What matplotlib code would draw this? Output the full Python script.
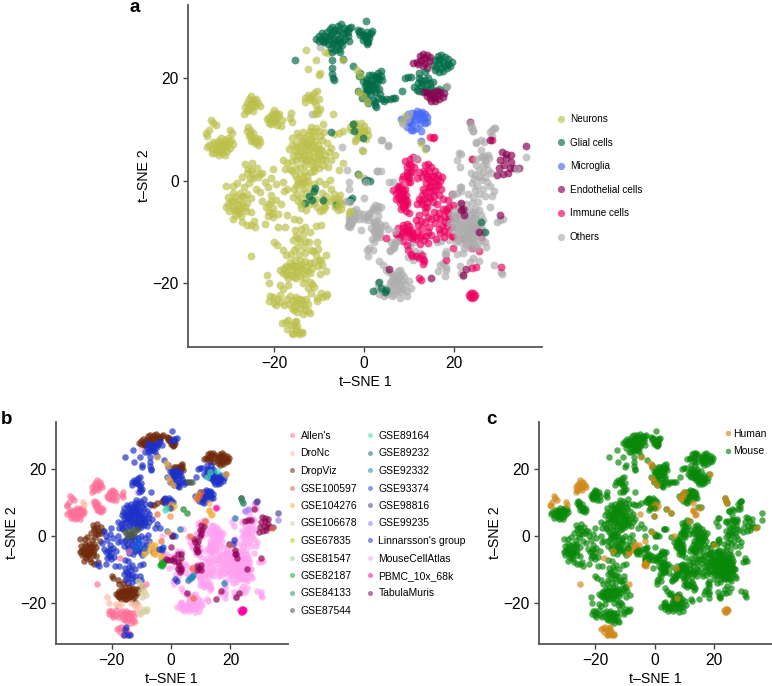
import matplotlib
matplotlib.use("Agg")
import matplotlib.pyplot as plt
from matplotlib.lines import Line2D

plt.rcParams['font.family'] = ['Liberation Sans', 'DejaVu Sans']

W, H = 772, 686

cell_types = ["Neurons", "Glial cells", "Microglia", "Endothelial cells", "Immune cells", "Others"]
cell_colors = ["#bcc04a", "#006b48", "#4668f8", "#880050", "#ee0060", "#adadad"]
datasets_col1 = ["Allen's", "DroNc", "DropViz", "GSE100597", "GSE104276", "GSE106678", "GSE67835",
                 "GSE81547", "GSE82187", "GSE84133", "GSE87544"]
datasets_col2 = ["GSE89164", "GSE89232", "GSE92332", "GSE93374", "GSE98816", "GSE99235",
                 "Linnarsson's group", "MouseCellAtlas", "PBMC_10x_68k", "TabulaMuris"]
dataset_colors = {"Allen's": "#ff7098", "DroNc": "#ffb8a0", "DropViz": "#702808", "GSE100597": "#e86830",
                  "GSE104276": "#f0b040", "GSE106678": "#d8cca0", "GSE67835": "#c0cc20", "GSE81547": "#a0d880",
                  "GSE82187": "#10a828", "GSE84133": "#209858", "GSE87544": "#485848", "GSE89164": "#40e0b0",
                  "GSE89232": "#207070", "GSE92332": "#1088b0", "GSE93374": "#1858d8", "GSE98816": "#504090",
                  "GSE99235": "#9880f8", "Linnarsson's group": "#1c30c8", "MouseCellAtlas": "#ffa0f0",
                  "PBMC_10x_68k": "#ff00a0", "TabulaMuris": "#900050"}
species_names = ["Human", "Mouse"]
species_colors = {"Human": "#d08818", "Mouse": "#088808"}

x_ticks = [-20, 0, 20]
y_ticks = [-20, 0, 20]

# ---- point groups (t-SNE 1, t-SNE 2) ----
others_right = [(23.9,10.3),(24.3,9.7),(29.1,10.4),(28.1,9.5),(28.5,8.8),(25,7.4),(26.6,7.6),(26.1,6.1),(27.5,5.1),
    (21.2,5.4),(24.1,4.3),(26.9,4),(27.8,4.4),(20.7,4),(21.3,2.8),(23.9,1.5),(27.5,2.1),(25.7,0.8),(24.5,0.3),(26,0.1),
    (27,0.8),(28.2,1.6),(24,-0.5),(25.2,-1),(26.5,-1.5),(28,-1),(29,-2),(28.5,-3),(21.7,-1.1),(21.7,-2),(21,-5),(18.4,-5.2),
    (25.4,-4.2),(28,-5.1),(29.5,-8),(30.2,-7.7),(31,-7.5),(27.2,-12.8),(27,-12),(24.3,-15),(23.5,-15.8),(25.5,-15.7),
    (29,-16.4),(30.4,-17.8),(30.6,-18.2),(21.3,-16.7),(21.6,-18),(22,-18.6),(17.6,-16),(18.3,-16.8),(16.5,-17.5),
    (18.1,-18.6),(18.3,-17.3),(18.2,-14.4),(18.3,-13.6),(20.8,-14.2),(22,-14),(19,-11.5),(16.2,-12),(17.2,-11.8),
    (24.8,1.2),(25.5,2.2),(26.4,3),(26.4,1.8),(27.3,-0.2),(24.6,-1.8),(25.6,-2.6),(27,-3),(24.2,-3.2),(23.2,-2.6),(26.4,4.6),(27.2,3.2),(25,3)]
others_dense = [(19.8,-9.5),(20.4,-8.4),(20.6,-10.6),(21,-7.6),(21.2,-9.2),(21.4,-11),(21.6,-12),(22,-8),(22,-10),
    (22.3,-9),(22.5,-6.5),(22.6,-11),(22.8,-12.5),(23,-8.2),(23,-9.8),(23.2,-7.2),(23.3,-11.5),(23.5,-13),(23.8,-9),
    (24,-10.5),(24,-7.6),(24.3,-6),(24.3,-12),(24.6,-8.6),(24.7,-11),(25,-9.8),(25,-7.5),(25.3,-12.4),(25.5,-5.7),
    (25.7,-10.6),(26,-8.8),(26,-6.6),(19.5,-6.6),(20.2,-5.8),(21.4,-4.6),(22.8,-4.6),(24,-4.4),(26.4,-7.6),(26.3,-11.6),
    (20.5,-12),(21.9,-7),(22.9,-10.7),(24.5,-9.7),(23.6,-12),(22.2,-13.1),(25.2,-13),(19.2,-8.3),(26.5,-10),
    (20,-7.4),(20.8,-6.6),(21.6,-5.8),(22.4,-5.6),(23.4,-5.6),(24.8,-6.6),(23.6,-6.6),(22.7,-7.5),(21.3,-8.4),(22.2,-8.8),
    (23.2,-8.9),(24,-8.4),(25.2,-8.6),(25.4,-10.8),(24.2,-11.2),(23.2,-10.4),(22.2,-11.6),(21,-10),(20.2,-9),(20.9,-11.6),
    (23,-12),(24.6,-12.6),(23.7,-10),(22.6,-9.6),(24.8,-5.4),(26.2,-9.6),(20.4,-7.3),(21.8,-9.6),(23.4,-7.7),(24.6,-7.2)]
others_mid = [(-3.2,-0.2),(0.1,0.6),(-3.4,-7),(-3.2,-7.7),(-3.4,-8.6),(-1.8,-5.4),(-1,-6.2),(-0.3,-6.5),(0.5,-7),(-2.8,-7),(-1.9,-6.4),(-2.4,-5.8),(-3,-8.3),
    (1.3,-7.1),(2,-5.2),(3.2,-4.9),(3.8,-5),(-2.3,-7.4),(-0.7,-9.6),(1.5,-9.2),(2.2,-9.8),(3.2,-9.4),(3.8,-8.9),(4.6,-8.6),(1.7,-5.8),(2.4,-4.7),(1.1,-6.2),
    (5.3,-9.4),(1.8,-11.4),(2.8,-10.8),(3.5,-11),(2.2,-12),(0.6,-13.5),(0.9,-14.6),(6,-12),(6.7,-13),(5.8,-13.6),(2.8,-8.9),(3.5,-8.4),(3,-7.8),(2.3,-8.3),(3.6,-10),(2.9,-9.8),
    (3.9,2),(3.9,7.9),(5.3,6.9),(-0.4,6),(3,2),(5.6,-0.3),(-11.6,13),(-9.8,26.2),(6.7,-12.4),(7.2,-11.8)]
others_low = [(3.4,-15.6),(4.2,-16.4),(4.9,-17.4),(5.6,-17.8),(7.4,-19.8),(7,-20.2),(6,-19.5),(6.5,-21),(7.4,-21.5),(5.6,-21.4),
    (5,-20.9),(7.8,-18.9),(8.5,-18.2),(8,-17.4),(9.2,-20.2),(10,-19.5),(6.2,-22.5),(8,-22.8),(9.5,-22.5),(3,-21),(3.4,-22),(4,-21.4),(3.2,-20),
    (4.5,-22.4),(11.4,-13.6),(10.2,-12.6),(11,-15.4),(11.8,-14.7),(12.4,-14),(11,-12),(9.7,-14.8),(6.5,-18.8),(7,-18.4),(7.7,-20.8),(8.4,-19.6),(8.7,-21),(5.8,-20),
    (6.2,-20.4),(7,-19.2),(8.2,-21.6),(6.8,-22),(9,-18.8),(7.5,-17.6),(6.3,-18.2),(9.6,-21.4),(5.2,-22),(10.4,-20.8),(8,-20.2)]
immune_main = [(11.8,0.5),(12.3,1.7),(13,0.8),(13.7,1.5),(14.3,0.3),(15,1),(15.6,-0.3),(14.8,-1),(13.8,-0.5),(13.2,-1.5),
    (14.5,-2),(15.8,-1.7),(16.5,-0.8),(17,0),(17.2,-1.5),(16.6,-2.7),(15.5,-3),(14.2,-3.2),(13,-2.7),(12.3,-3.6),(11.7,-4.6),
    (13,-4.5),(14,-5),(15.3,-4.2),(16.2,-4.6),(17.5,-3.5),(18.7,-3.8),(19.6,-2.5),(13.6,-6),(12.2,-6.6),(11.5,-7.6),(12.7,-7.8),
    (14.2,-7),(15.5,-6),(16.6,-6.2),(17.6,-5.5),(18.8,-6.2),(17,-7.5),(18,-8),(19.2,-7.4),(15.8,-8.3),(14.4,-9),(13,-9.2),(11.8,-10),
    (10.5,-9.5),(9.5,-8.5),(8.7,-8.7),(7.6,-9.2),(7.1,-10.3),(8.6,-10),(10,-11),(11.2,-10.8),(12.8,-10.5),(13.8,-10.8),(15,-10.6),
    (16.6,-9.4),(17.8,-9.8),(18.7,-10.2),(16,-11.3),(17.9,-11),(12.4,-12.3),(14.2,-12.2),(8.6,-11.7),(9.6,-12.5),(8,-10.9),
    (13.5,3),(14.3,3.3),(15,2.7),(15.8,2),(16.5,1.2),(17.4,0.8),(13.4,2),(14.4,2),(15.5,1),(14,0.8),(15,0),(16.3,0.3),(14.4,-1.2),(15.4,-2),(13.6,-2.2),(16,-1),
    (12.8,-4),(13.4,-3.6),(14,-4.2),(14.8,-3.4),(13.5,-5),(18.2,-5.6),(19,-5),(19.8,-4.8),(18.8,-7.5),(19.7,-9),(20.5,-7),(17.8,-6.8),(17.4,-8.8),(18.5,-8.8),(19.6,-10.8),(17,-10.2),
    (10.6,-10.2),(11.6,-11.4),(12.4,-11),(13.3,-11.6),(14.3,-10),(9.9,-9.5),(10.6,-11.2),(12,-8.7),(13.7,-8),(15,-7.4),(16,-7)]
immune_left = [(6.5,-1.8),(7.6,-1.2),(8.3,-1),(7.2,-2.4),(8,-2.8),(8.8,-2.4),(7.2,-3.5),(8.2,-3.8),(9.2,-3.6),(8,-4.4),(9,-5),(9.6,-4.6),
    (8.3,-5.5),(9.3,-5.8),(10,-6.3),(8.4,0.3),(9.5,1.2),(10.3,1.7),(9.8,0.7),(10.2,-0.3),(8.8,0.9),(9.5,2.8),(10.4,3),(9.2,3.9),
    (11,4.6),(10.2,4.2),(11.8,4.3),(7.9,-1.8),(8.8,-3.2),(8.6,-1.8),(9.4,-2.8),(9.6,-4),(7.6,-3.2)]
immune_misc = [(10.4,-14.2),(11.6,-14.7),(13,-14.4),(13.2,-15.3),(13.4,-15.7),(13.2,-16.2),(7.6,-10.5),(12.6,-19.4),(12.2,-19),(18.3,-15.5),
    (25.5,-13.6),(26,-10.9),(24,-13),(22,-11.2),(20,-11),(19.8,-13),(30.4,-16.8),(24,-17),(25,-16.8),(14.7,8.5),(15.5,8.5),(28.5,8),(24,4.2),(24,-9.2),(25,-9.2),(10.6,-14.7),(9.8,-13.4),(12.3,-15),(4.9,-11.2)]
immune_pbmc = [(23.4,-22.3),(23.8,-21.8),(24.2,-21.9),(24.6,-22.2),(24,-22.8),(23.6,-22.7),(24.4,-22.6)]
neuro_allen_left = [(-34.5,7),(-33.8,6.2),(-33,5.5),(-32.2,5),(-31.5,5.4),(-30.5,5.8),(-29.7,6.4),(-29.2,7.1),(-30,7.6),(-30.8,8),(-31.7,8.3),
    (-32.5,7.8),(-33.2,7.2),(-32,6.8),(-31.2,6.6),(-30.4,6.9),(-32.6,6.3),(-33.6,7.6),(-31,7.3),(-31.9,7.5),(-30.3,8.4),(-34.9,6.6),(-31.6,6.1),
    (-33,6.5),(-31.5,7),(-32.3,5.8),(-30.8,5),(-33.8,5.4),(-29.5,8)]
neuro_human_tl = [(-35.1,9.3),(-34.5,10),(-33.9,11.9),(-33.5,11.2),(-32.8,10.8),(-34.9,8.8)]
neuro_pale_tl = [(-29.8,10),(-29.4,9.3)]
neuro_human_2515 = [(-26.5,14.5),(-26,15.2),(-25.5,15.9),(-25,16.6),(-24.5,15.8),(-24,16),(-23.5,15.2),(-23.2,14.6),(-24.2,14.6),(-25,14.2),
    (-25.8,13.8),(-25.2,15),(-24.6,13.7),(-26,13.6),(-26.6,13),(-24.8,15.3),(-25.4,14.7),(-24.5,15)]
neuro_allen_2012 = [(-20,13.8),(-19.6,13.3),(-20.5,13),(-21,12.5),(-21.5,12),(-20.3,12.2),(-19.6,12),(-20,11.4),(-21.2,11.2),(-20.7,11),
    (-18.9,13),(-19.2,12.6),(-18.3,11.9),(-19.4,10.8),(-16.1,13.2),(-16.5,12.2),(-16,11.5),(-18.5,10.7),(-20.8,11.8),(-20.2,12.8),(-19.8,11.7)]
neuro_allen_258 = [(-25.8,10.5),(-26,9.7),(-25.4,9.3),(-25,8.8),(-24.6,8),(-24.2,7.4),(-23.5,7),(-23,7.6),(-23.3,8.2),(-24,8.3),(-25,7.8),(-25.6,8.8),(-24.6,9.4),(-25.4,10),(-24,7.8)]
neuro_sparse_top = [(-12.8,25.6),(-10.6,23.6),(-12.5,21.9),(-9.7,21),(-9.9,20.6),(-8.6,25.1),(-7.9,25)]
neuro_1015 = [(-13,16.2),(-12.5,16.8),(-11.5,16.6),(-11,17.2),(-10.5,17.6),(-11.8,15.8),(-13.2,15.3),(-10.6,14.8),(-10,15.9),(-10.4,13.9),
    (-9.8,14),(-10.8,13),(-10.2,13.3),(-6.8,13),(-12,16.2),(-11,15.6)]
neuro_center = [(-14.5,8.6),(-13.8,8),(-13,8.4),(-12.4,7.6),(-11.7,8.2),(-11,8.8),(-10.8,7.8),(-10.2,7),(-11.2,6.8),(-12,6.4),(-13,6.6),(-14,6.8),
    (-15.2,7.2),(-16,7),(-16.6,6.2),(-15.4,5.8),(-14.5,5.6),(-13.4,5.3),(-12.2,5),(-11,5.6),(-10,5.4),(-9.2,6),(-8.6,5),(-9.4,4.2),(-10.4,4),
    (-11.6,3.8),(-12.8,3.8),(-14,4.3),(-15,4),(-16,3.8),(-17,3.4),(-16.4,2.4),(-15.2,2.6),(-14.2,2.8),(-11,2.6),(-10,2.6),(-9,3.1),(-8,2.8),(-7.4,4),
    (-12,9.8),(-10.6,10.3),(-9,11),(-8.8,9.6),(-14.8,9.3),(-6.5,5.1),(-7.3,6.4),(-8.2,7.4),(-13.5,9.6),(-9.8,8.7),(-11.7,10.6),(-4.6,3.4),(-5.5,2.2),
    (-13.5,7.3),(-12.7,7),(-11.8,7.3),(-10.7,6.2),(-9.7,6.3),(-12.5,5.9),(-13.8,5.9),(-14.8,6.6),(-15.7,5),(-14.6,4.9),(-13.4,4.5),(-12.2,4.2),(-11,4.6),(-9.9,4.8),
    (-8.7,4),(-10.4,3.3),(-11.6,3),(-13,3),(-17.6,2.4),(-16,2),(-11.3,9.5),(-12.4,9),(-10,9.7),(-9.2,8),(-7.8,5.7),(-18,4),(-15.9,8.3)]
neuro_grey87544 = [(-15.4,1.2),(-14.8,0.4),(-14.2,1.4),(-13.6,0.6),(-13,1.8),(-12.6,0.9),(-14.6,-0.5),(-13.6,-0.6),(-12.4,-0.1),(-11.8,1.7),(-11,2),(-15,-1),(-14,0),(-13,-0.2)]
neuro_center_low = [(-15.6,-1.6),(-14.8,-2.6),(-14,-3.4),(-13,-2.4),(-12.2,-3.2),(-11.2,-2.2),(-10.6,-3.6),(-12,-4.6),(-13.4,-4.4),(-14.6,-4),(-9.4,-2.4),
    (-9,-4),(-8.7,-5),(-10.4,-5),(-15.8,-3.2),(-12.8,-5.6),(-8.6,-0.6),(-7.6,0.2),(-10,0),(-11,-0.6),(-17,-1.6),(-18,-0.2),(-13.5,-1.6),(-12,-1.4),(-11,-4.4),(-9.7,-5.8),(-14,-5.2),(-8.4,-2.9),(-7.4,-1.6)]
neuro_brown_left = [(-30.6,-1),(-29,-2.4),(-28.2,-0.4),(-27.6,-2.4),(-26.6,-1.2),(-26,-2.6),(-27,0.8),(-27.7,-3.8),(-29,-4),(-30.2,-4.6),(-29.2,-5.4),(-28,-5.6),
    (-27,-4.6),(-26,-4.4),(-25.2,-3.4),(-30.6,-5),(-28.6,-6.6),(-27.4,-6.9),(-26.2,-5.8),(-25.2,-6),(-27,-8),(-26,-8.6),(-29.2,-7.5),(-25.6,-0.4),(-24.6,0.5),
    (-26,1.6),(-25,2.2),(-26.4,3.2),(-24.8,3.4),(-23.7,2.6),(-23.5,0.8),(-23,1.4),(-29,-1),(-24.5,-7.8),(-24,-1.5),(-30.3,-3.2),
    (-28.6,-3.2),(-28,-4.6),(-29.6,-4),(-28.8,-4.9),(-27.4,-5.2),(-26.6,-3.2),(-26.4,-5),(-27.2,-3),(-25.8,2.4),(-24.6,1.4),(-25.4,0.6),(-27.8,-6.2),(-28.5,-5.6),(-30,-5.8)]
neuro_blue_l2 = [(-25,-8.6),(-24.2,-9),(-22,-8.4),(-19,-9),(-22.6,-4),(-21.8,-5),(-21,-6),(-20.2,-5.2),(-19.2,-6.4),(-19.6,-3.8),(-18.4,-4.6),(-20.7,-2.8),(-21.4,-1.2),
    (-22,-0.2),(-20.7,0.6),(-19.6,-0.7),(-20.7,-4),(-21.4,-6.8),(-20.2,-7),(-17.8,-2),(-22.6,1.5),(-20.2,2.3),(-23.2,-2.2),(-21.2,-4.6),(-20.5,-6.2)]
neuro_blue_lower = [(-15.4,-9.6),(-14,-9.4),(-13,-8.9),(-12,-10),(-15,-10.8),(-15.8,-11.5),(-14.2,-11.8),(-14.8,-12.8),(-13.4,-12.8),(-12.2,-12),(-15.6,-13.4),(-14.4,-14.2),
    (-13,-14),(-11.8,-13.4),(-10.4,-12),(-10.2,-13.2),(-17.6,-9),(-15.6,-7.4),(-14.4,-7.6),(-9.6,-8.6),(-10.6,-8.8),(-13.6,-10.4),(-14.6,-11.2),(-13,-11.8)]
neuro_brown_lower = [(-18.6,-17.4),(-17.4,-16.6),(-16.4,-15.8),(-15.4,-15.4),(-14.2,-15.4),(-13,-15.6),(-12,-16),(-11,-15.8),(-10,-15.4),(-18,-18),(-17,-17.9),(-16,-17.4),(-15,-16.6),
    (-14,-17),(-13,-17.4),(-12,-18),(-15.6,-18.8),(-14.2,-18.6),(-13,-19),(-11.5,-17),(-16.8,-19),(-20,-12),(-19.4,-12.6),(-18,-13.4),(-17.4,-14.5),(-12,-19.7),(-16.2,-14.2),
    (-17.8,-17),(-16.8,-16.8),(-15.8,-16.4),(-14.8,-17.8),(-13.7,-16.2),(-12.7,-16.6),(-16.2,-18.4),(-15,-19),(-13.6,-18),(-12.5,-17.5),(-16,-16.6),(-15.2,-17.6),(-14.4,-16.6),(-17.4,-18.4)]
neuro_beige = [(-10.6,-14.4),(-9.6,-15.5),(-9.2,-16.5),(-8.4,-17.6),(-9.8,-18.2),(-8.5,-22.4),(-9.2,-22.6),(-10.4,-22.8),(-9.5,-21.9),(-11.2,-13.7),(-11.5,-20.2),(-10.5,-23.5),(-8.2,-22),(-10.2,-16.6)]
neuro_peach = [(-21.5,-18.4),(-21,-20),(-18.6,-20.4),(-18,-21),(-13.6,-20),(-12.4,-20.8),(-11,-20.7),(-16.8,-20.3),(-12,-25.8),(-11.8,-21.8)]
neuro_allen_low = [(-21,-23.4),(-20.2,-22.6),(-19.4,-23),(-18.6,-22.2),(-20,-23.8),(-18.5,-23.6),(-16.4,-22.4),(-15.8,-23.4),(-15,-22.6),(-14.2,-23),(-13.4,-24.2),(-12.4,-24),(-15.4,-24.4),
    (-14.2,-24.8),(-13.2,-25.2),(-16.6,-24),(-17.2,-23),(-14.8,-25.6),(-15.6,-25.2),(-13.6,-26),(-12.4,-25.4),(-14.6,-23.8),(-15.2,-23.2),(-13.8,-23.2),(-16,-24.8),(-14,-24),(-12.8,-23),(-19.6,-24.2),(-20.8,-22.5),(-17.8,-24.2)]
neuro_human_low = [(-18.2,-27.8),(-17.4,-27.6),(-16.8,-27.2),(-16.2,-28.2),(-17.2,-28.8),(-16,-29.6),(-15,-29.3),(-14.4,-29.5),(-13.8,-29.4),(-15.4,-27.6),(-14.8,-28.4),(-15.2,-28.8)]
neuro_purple_low = [(-15.8,-29.8),(-15,-27.4),(-14.4,-29.8),(-15.6,-28.2),(-13.8,-29.6)]
neuro_gse_mid = [(-6.6,-2.6),(-6.9,-3.5),(-7.2,-4),(-6.3,-3.9),(-6,-4.4),(-5.8,-3.3),(-5.4,-4.2),(-5.3,-2.8)]
neuro_orange_m = [(-8.8,-4.9),(-9,-5.6),(-8.6,-4.2)]
neuro_midright = [(-3,10.5),(-2.4,11),(-1.7,10.1),(-0.9,9.8),(0,9.8),(-4.6,9.8),(-5.6,9.3),(-6.6,9.2),(-2.8,10)]
neuro_blue_mid = [(-1.9,11.2),(-1,10.6),(0,10.7),(0.8,10),(-1.4,9.5),(-0.6,11.3)]
neuro_yellow_m = [(0,9.5),(-0.9,8.6),(0.5,8.2),(1,9),(-1.3,9),(-0.2,5.8)]
glia_top_brown = [(-10.7,27.6),(-10,28.2),(-9.4,28.8),(-8.8,28.2),(-8.2,29),(-7.6,29.7),(-7,30),(-6.4,29.4),(-5.8,30.2),(-5,30.5),(-4.4,29.8),(-3.8,29.5),(-3.2,29.9),(-2.8,30),
    (-4.8,28.9),(-6,28.6),(-7.2,28.4),(-8.4,27.4),(-9.3,27.6),(-6.6,27.6),(-5.2,27.9),(-7.8,28.2),(-6.8,29),(-5.5,29.4),(-8.8,27),(-10,27.3),(-9.1,27.2),(-4.2,28.9),(-3.6,29)]
glia_top_blue = [(-8,26.6),(-7.3,26),(-6.6,26.9),(-6,26.3),(-5.4,26.8),(-4.8,27.2),(-4.2,27.6),(-3.6,28.2),(-7,25.2),(-5.6,25.7),(-5.3,25.1),(-3.2,27.2),(-6.4,27.2),(-7.7,27.6),(-7,26.7),(-5.8,27.4),(-4.8,26.5),(-6.5,25.6)]
glia_b_brown = [(-1.2,29.5),(-0.6,29.2),(-0.9,28.5),(0.2,27.8),(0.6,27.1),(1,27),(-0.1,27.4),(1.2,27.8),(-0.3,28.4),(0.6,28),(-1,29.1),(0.8,26.7)]
glia_b_blue = [(0.4,31.2),(0.8,29),(1.5,28.9),(1.9,29.3),(0.3,28.3),(1.1,28.4)]
glia_sparse = [(-15.4,23.5),(-4.7,23.8),(-2.5,22.5),(-7,23.6),(-7,22),(-7,20.8),(-6.8,20),(-6.7,19.7),(-0.9,21),(-1,20.4),(-7.2,9.5),(-2.4,11),(-2.1,9.8),(-0.2,8.4)]
glia_c_brown = [(1.8,20.6),(2.5,20.4),(3.2,21),(3.8,21.5),(3.8,20.4),(3.4,19.8),(0.5,19.9),(4,19.6),(2.6,20),(3,20.2),(1.1,20.6)]
glia_c_blue = [(1,19.4),(1.5,18.8),(1.9,19.5),(1,18.3),(0.2,18.6),(-0.2,19.4),(0.6,18),(1.4,17.8),(2.4,17.4),(2.8,18),(3,19),(3.6,17),(3.1,16.2),(4,16),(4.4,15.6),(-1.3,17.5),(-0.4,16.2),
    (0.6,16),(0.9,15.2),(-0.1,16.5),(1.5,16.9),(2.1,15.8),(2.5,15.3),(2.5,14.8),(2.7,14.5),(5,16),(0.4,18.9),(1.2,19),(1.8,18.1),(0.8,17.4),(2,18.6),(2.4,19),(3.3,17.9),(0.2,17.3)]
glia_c_grey = [(5.8,16),(6.5,16.2),(7,16.1)]
glia_rt_brown = [(15.4,22.6),(15.8,23.6),(16.4,24.4),(17.2,24.6),(18,24.2),(18.8,23.8),(19.5,23.2),(19.2,22.4),(18.4,22),(17.6,21.4),(16.6,21.2),(15.8,21.6),(16.6,22.8),(17.6,23.2),(18,22.6),
    (16.4,23.6),(17.2,22),(18.8,22.8),(17,23.8),(16,22.2)]
endo_rt_brown = [(11,23),(11.8,23.2),(12.4,24.4),(13.2,24.8),(14,24.6),(14.7,24.2),(14.4,23.4),(13.6,23),(12.8,23.6),(13.2,22.4),(14,22),(12,22.8),(13.4,24)]
glia_rt_blue = [(8.4,17.6),(9.2,20),(9.8,20.2),(10.4,20.3),(12.2,21),(12.2,20),(12,19),(11.2,18.3),(12.8,18.6),(13.6,19.6),(14.2,20),(14.6,19),(13.6,18),(14.6,18),(15.6,16.4),(16.6,18),(13.5,21.2),(13.3,17.6),(12.6,19.6),(14,18.8),(15.2,17.9),(11.8,17.8)]
endo_rt_blue = [(13.2,17.4),(14,16.6),(14.6,16.2),(15.5,17.4),(16.4,16.8),(17,17.4),(17.5,16.4),(16.6,15.9),(15.8,15.6),(14.9,15.6),(13.8,17.4),(17.8,17.2),(15,16.8),(15.9,16.2),(14.5,17.2),(16.2,17.5)]
glia_rt_cyan = [(13,19),(12.2,17.6),(15.4,19.2),(18.3,18.4)]
micro = [(8.2,12),(9.2,11.9),(9.6,12.4),(9.9,13),(10.4,12.4),(10.8,13.2),(11.5,13),(11.8,13.6),(12.4,13.3),(13,13.4),(13.6,13),(14,12.4),(13.4,12),(12.6,12.2),(11.4,11.8),(10.3,11.2),(9.5,10.5),(10.4,10),(11,9.9),
    (11.6,10.4),(12.4,11),(13.6,11.2),(14.1,11.4),(12.8,12.8),(11.2,12.6),(10,11.4),(10.8,11.2),(12.2,12)]
micro_single = [(12.7,7.7),(13.8,6.5),(12.7,9.7)]
glia_low_mid = [(-1.3,1.3),(0.6,0.2),(0.2,0),(1.3,-0.1),(-3.1,-3.7),(-3.4,-4),(-2.7,-3.4),(-6.1,-4.8),(-10.9,-1.4),(-11.1,-2),(-11.6,-3.7),(-13,-4.3),(-12.2,-3),(-9,-3.8)]
glia_low_2 = [(3.4,-19.8),(4.7,-21.6),(4.9,-21.2),(26.1,-8.1),(26.9,-9.9),(2,-21.4),(3.9,-20.8)]
mix_sc = [(-5.5,-4.4),(-4.8,-4.6),(-5,-5.4),(-5.8,-5.6),(-6.4,-5),(-3.3,-6.3),(-3,-5.8),(-3.4,-8.5)]
green_ms = [(-3.3,-8.5),(-3,-8),(-3.1,-9),(-2.8,-8.4),(-3.6,-8.8),(-2.5,-7.9)]
teal_pts = [(6.4,-12.8),(5.8,-13.4),(7,-12.4),(7.4,-11.8),(18,-14.3),(21.5,5.3),(3,2)]
blue_pts = [(2,-13.5),(1.2,-13),(20.8,-2.4),(21.3,-1.2),(19.5,-2.6),(-3.7,2.2),(-3,-4.2),(-4,-3.9)]
tabula_left = [(7.6,-1),(8.2,-2),(8.6,-3.1),(9.2,-1.6),(9.8,-0.2),(8.4,-4),(9.2,-4.6),(10.1,0.6),(10.6,1.8),(11.2,2.8),(10,3.2),(9.6,1.8),(8.8,-5),(8.8,-9.2),(9.3,-9.8),(8.8,-10.4),(10,-8.8),(10,-10.2)]
tabula_grey = [(-1.8,-7),(-1,-7.4),(0,-7.4),(1,-6.6),(2.4,-5.5),(3.2,-5.6),(3.2,-6.8),(0.9,-7.6),(2.2,-8),(2.8,-8.8),(3.4,-9.6),(2.2,-9.9),(3,-11),(3.4,-10.4),(26,4.6),(27,4.8),(25,4.3),(0.5,-0.2),(0,-3.3),(17,-16.4)]
tabula_endo = [(28,8),(22,-18.3),(31.6,4.4),(32.6,3.6),(33.4,2.6),(21.7,-4.4),(22,-5.4),(21.5,-5.6),(22.2,-6.6),(31.5,5.3),(30.2,-6.6),(30.3,4),(31.2,3),(32,1.6),(32.6,5),(31,1.4),(32.4,2.6),(30.8,5.6),(30,2.6),(29.6,1.2),(5.5,-17.1),(15,-19),(22.8,-17.1),(25.5,-10),(23.5,11.4)]
green_right = [(23.7,11.3),(24,10.5),(24.2,9.8)]
lav_pts = [(25,7.5),(36,4.6),(26,7.9)]
purple_pts = [(28.5,10),(29,10.4)]
purple_endo = [(36,6.8),(34.5,2.6)]
yellow_pts = [(-4.7,23.6),(-1.6,21.7),(-1,17.4),(-0.2,16.5),(0.6,15.3),(12.8,7.4),(13.5,6.3),(9.2,12.6),(8.5,11.4),(-1,1.1),(-0.9,20.7)]
peach_misc = [(10,13),(8.8,11),(9.5,12),(-4.8,6.6),(11.5,4.5)]
orange_misc = [(-3.3,-1.5),(7.5,-18.5),(19.8,-2.7),(6.5,-0.2),(7,-9.8),(34,2.4),(18.5,18.5)]
grey_orange = [(4,7.9),(5.3,6.8)]
immune_orange = [(15.3,8.3)]
pink_single = [(-25,-14.6),(-17.2,-6.6),(-8.5,-14.4),(-14,-4.6)]
teal_light = [(-2,7.8),(-1.7,8.2)]

# group: points, cell type, dataset, species
GROUPS = [
    (others_right, "Others", "MouseCellAtlas", "Mouse"),
    (others_mid, "Others", "MouseCellAtlas", "Mouse"),
    (others_low, "Others", "MouseCellAtlas", "Mouse"),
    (immune_main, "Immune cells", "MouseCellAtlas", "Mouse"),
    (immune_left, "Immune cells", "MouseCellAtlas", "Mouse"),
    (immune_misc, "Immune cells", "MouseCellAtlas", "Mouse"),
    (others_dense, "Others", "MouseCellAtlas", "Mouse"),
    (immune_pbmc, "Immune cells", "PBMC_10x_68k", "Human"),
    (neuro_allen_left, "Neurons", "Allen's", "Mouse"),
    (neuro_human_tl, "Neurons", "Allen's", "Human"),
    (neuro_pale_tl, "Neurons", "DroNc", "Human"),
    (neuro_human_2515, "Neurons", "Allen's", "Human"),
    (neuro_allen_2012, "Neurons", "Allen's", "Mouse"),
    (neuro_allen_258, "Neurons", "Allen's", "Mouse"),
    (neuro_sparse_top, "Neurons", "Linnarsson's group", "Mouse"),
    (neuro_1015, "Neurons", "Linnarsson's group", "Mouse"),
    (neuro_center, "Neurons", "Linnarsson's group", "Mouse"),
    (neuro_grey87544, "Neurons", "GSE87544", "Mouse"),
    (neuro_center_low, "Neurons", "Linnarsson's group", "Mouse"),
    (neuro_brown_left, "Neurons", "DropViz", "Mouse"),
    (neuro_blue_l2, "Neurons", "Linnarsson's group", "Mouse"),
    (neuro_blue_lower, "Neurons", "Linnarsson's group", "Mouse"),
    (neuro_brown_lower, "Neurons", "DropViz", "Mouse"),
    (neuro_beige, "Neurons", "GSE106678", "Mouse"),
    (neuro_peach, "Neurons", "DroNc", "Mouse"),
    (neuro_allen_low, "Neurons", "Allen's", "Mouse"),
    (neuro_human_low, "Neurons", "Allen's", "Human"),
    (neuro_purple_low, "Neurons", "Linnarsson's group", "Human"),
    (neuro_gse_mid, "Neurons", "GSE104276", "Human"),
    (neuro_orange_m, "Neurons", "GSE104276", "Human"),
    (neuro_midright, "Neurons", "DropViz", "Mouse"),
    (neuro_blue_mid, "Neurons", "Linnarsson's group", "Mouse"),
    (neuro_yellow_m, "Neurons", "GSE104276", "Human"),
    (glia_top_brown, "Glial cells", "DropViz", "Mouse"),
    (glia_top_blue, "Glial cells", "Linnarsson's group", "Mouse"),
    (glia_b_brown, "Glial cells", "DropViz", "Mouse"),
    (glia_b_blue, "Glial cells", "Linnarsson's group", "Mouse"),
    (glia_sparse, "Glial cells", "Linnarsson's group", "Mouse"),
    (glia_c_brown, "Glial cells", "DropViz", "Mouse"),
    (glia_c_blue, "Glial cells", "Linnarsson's group", "Mouse"),
    (glia_c_grey, "Glial cells", "GSE87544", "Mouse"),
    (glia_rt_brown, "Glial cells", "DropViz", "Mouse"),
    (endo_rt_brown, "Endothelial cells", "DropViz", "Mouse"),
    (glia_rt_blue, "Glial cells", "Linnarsson's group", "Mouse"),
    (endo_rt_blue, "Endothelial cells", "Linnarsson's group", "Mouse"),
    (glia_rt_cyan, "Glial cells", "GSE89164", "Mouse"),
    (micro, "Microglia", "Linnarsson's group", "Mouse"),
    (micro_single, "Microglia", "GSE104276", "Human"),
    (glia_low_mid, "Glial cells", "GSE93374", "Mouse"),
    (glia_low_2, "Glial cells", "MouseCellAtlas", "Mouse"),
    (mix_sc, "Neurons", "GSE104276", "Mouse"),
    (green_ms, "Others", "GSE82187", "Human"),
    (teal_pts, "Others", "GSE92332", "Mouse"),
    (blue_pts, "Others", "Linnarsson's group", "Mouse"),
    (tabula_left, "Immune cells", "TabulaMuris", "Mouse"),
    (tabula_grey, "Others", "TabulaMuris", "Mouse"),
    (tabula_endo, "Endothelial cells", "TabulaMuris", "Mouse"),
    (green_right, "Others", "GSE84133", "Human"),
    (lav_pts, "Others", "GSE99235", "Mouse"),
    (purple_pts, "Others", "GSE98816", "Mouse"),
    (purple_endo, "Endothelial cells", "GSE98816", "Mouse"),
    (yellow_pts, "Neurons", "GSE104276", "Human"),
    (peach_misc, "Others", "GSE100597", "Human"),
    (orange_misc, "Others", "GSE100597", "Human"),
    (grey_orange, "Others", "GSE82187", "Human"),
    (immune_orange, "Immune cells", "PBMC_10x_68k", "Human"),
    (pink_single, "Neurons", "Allen's", "Human"),
    (teal_light, "Neurons", "GSE89164", "Mouse"),
]
cell_color_map = dict(zip(cell_types, cell_colors))

fig = plt.figure(figsize=(W / 100, H / 100), dpi=100)


def make_axes(left, right, top, bottom, xlim, ylim, label, lab_x, lab_y):
    ax = fig.add_axes([left / W, 1 - bottom / H, (right - left) / W, (bottom - top) / H])
    ax.set_xlim(*xlim)
    ax.set_ylim(*ylim)
    ax.set_xticks(x_ticks)
    ax.set_yticks(y_ticks)
    ax.set_xticklabels(["\u2212%d" % abs(v) if v < 0 else str(v) for v in x_ticks])
    ax.set_yticklabels(["\u2212%d" % abs(v) if v < 0 else str(v) for v in y_ticks])
    ax.tick_params(labelsize=11.2, length=3.5, width=1, color="#444444", pad=3)
    for s in ["top", "right"]:
        ax.spines[s].set_visible(False)
    for s in ["left", "bottom"]:
        ax.spines[s].set_linewidth(1.3)
        ax.spines[s].set_color("#555555")
    ax.set_xlabel("t\u2013SNE 1", fontsize=10.2, labelpad=3)
    ax.set_ylabel("t\u2013SNE 2", fontsize=10.2, labelpad=1)
    fig.text(lab_x / W, 1 - lab_y / H, label, fontsize=13.5, fontweight="bold", ha="left", va="baseline")
    return ax


def draw(ax, colour_of, size, alpha):
    for pts, ctype, ds, sp in GROUPS:
        xs = [p[0] for p in pts]
        ys = [p[1] for p in pts]
        ax.scatter(xs, ys, s=size, c=colour_of(ctype, ds, sp), alpha=alpha, linewidths=0, clip_on=False)


def handle(color, ms, alpha=0.65):
    return Line2D([], [], ls="none", marker="o", ms=ms, mfc=color, mec="none", alpha=alpha)


ax_a = make_axes(188, 542, 5, 347, (-39.1, 39.6), (-32.4, 34.3), "a", 130, 12)
draw(ax_a, lambda c, d, s: cell_color_map[c], 32, 0.68)
ax_a.legend([handle(c, 5.2) for c in cell_colors], cell_types, loc="upper left", bbox_to_anchor=(556 / W, 1 - 114 / H),
            bbox_transform=fig.transFigure, frameon=False, fontsize=7.2, labelspacing=1.36, handlelength=0.9,
            handletextpad=0.5, borderpad=0, borderaxespad=0)

ax_b = make_axes(55.5, 288, 422, 644, (-38.9, 39.4), (-32.4, 34), "b", 1, 424)
draw(ax_b, lambda c, d, s: dataset_colors[d], 22, 0.68)
names = datasets_col1 + datasets_col2
ax_b.legend([handle(dataset_colors[n], 3.6, 0.55) for n in names],
            names, ncols=2, loc="upper left", bbox_to_anchor=(288 / W, 1 - 431 / H), bbox_transform=fig.transFigure,
            frameon=False, fontsize=7.5, labelspacing=0.72, handlelength=0.75, handletextpad=0.45, columnspacing=0.85,
            borderpad=0, borderaxespad=0)

ax_c = make_axes(539, 772, 422, 644, (-38.9, 39.4), (-32.4, 34), "c", 486, 424)
draw(ax_c, lambda c, d, s: species_colors[s], 22, 0.68)
ax_c.legend([handle(species_colors[n], 4) for n in species_names], species_names, loc="upper left",
            bbox_to_anchor=(725 / W, 1 - 429 / H), bbox_transform=fig.transFigure, frameon=False, fontsize=7.5,
            labelspacing=0.72, handlelength=0.5, handletextpad=0.3, borderpad=0, borderaxespad=0)

fig.savefig("out.png", dpi=100)
